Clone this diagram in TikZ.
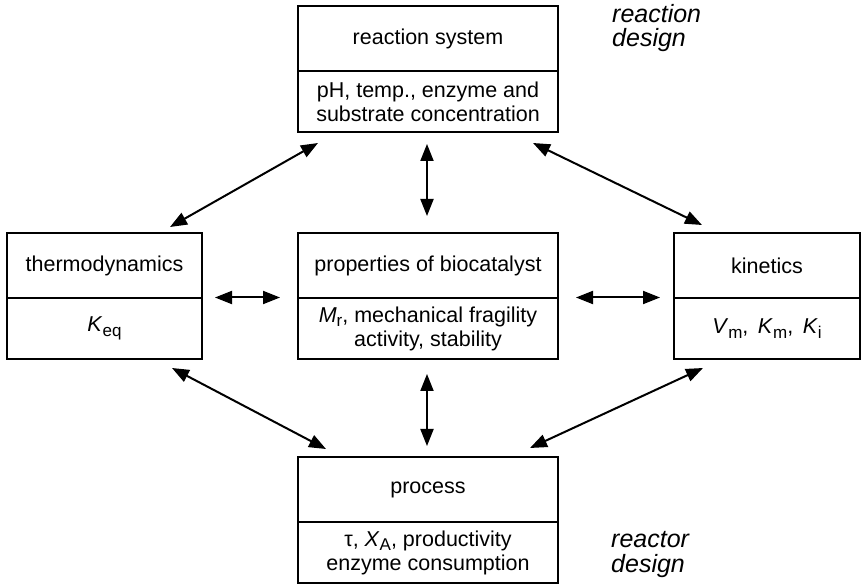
\documentclass[tikz,border=0pt]{standalone}
\usepackage{fontspec}
\setmainfont{Liberation Sans}
\usetikzlibrary{arrows.meta}
\newcommand{\sbx}[1]{\raisebox{-0.4ex}{\fontsize{17}{17}\selectfont #1}}
\begin{document}
\begin{tikzpicture}[x=1pt,y=-1pt,
  part/.style={draw, line width=1.4pt, inner sep=0pt, align=center,
    font=\fontsize{21.5}{24}\selectfont},
  head/.style={part, minimum height=65pt},
  body/.style={part, minimum height=61pt},
  wide/.style={minimum width=260pt},
  lbl/.style={inner sep=0pt, anchor=base west, align=left,
    font=\fontsize{25}{24.5}\selectfont\itshape},
  link/.style={line width=2pt,
    {Triangle[length=17pt,width=13pt]}-{Triangle[length=17pt,width=13pt]}}]
\useasboundingbox (0,0) rectangle (863,585);
% top box
\node[head, wide] (rsT) at (428,38.5) {reaction system};
\node[body, wide] (rsB) at (428,101.5) {pH, temp., enzyme and\\substrate concentration};
% middle row
\node[head, minimum width=195pt] (thT) at (104.5,265.5) {thermodynamics};
\node[body, minimum width=195pt] (thB) at (104.5,328.5) {\textit{K}\sbx{eq}};
\node[head, wide] (pbT) at (428,265.5) {properties of biocatalyst};
\node[body, wide] (pbB) at (428,328.5) {\textit{M}\sbx{r}, mechanical fragility\\activity, stability};
\node[head, minimum width=186pt] (knT) at (767,265.5) {kinetics};
\node[body, minimum width=186pt] (knB) at (767,328.5) {\textit{V}\sbx{m},\, \textit{K}\sbx{m},\, \textit{K}\sbx{i}};
% bottom box
\node[head, wide] (prT) at (428,489.5) {process};
\node[body, wide] (prB) at (428,552.5) {τ, \textit{X}\sbx{A}, productivity\\enzyme consumption};
% side labels
\node[lbl] (rd) at (612,47) {reaction\\design};
\node[lbl] (rc) at (611,572) {reactor\\design};
% arrow ends
\coordinate (a1) at (318,143); \coordinate (a2) at (170,227);
\coordinate (b1) at (533,143); \coordinate (b2) at (702,225);
\coordinate (c1) at (427,144); \coordinate (c2) at (427,216);
\coordinate (d1) at (215,297.5); \coordinate (d2) at (280,297.5);
\coordinate (e1) at (576,297.5); \coordinate (e2) at (660,297.5);
\coordinate (f1) at (427,374); \coordinate (f2) at (427,446);
\coordinate (g1) at (172,368); \coordinate (g2) at (326,449);
\coordinate (h1) at (703,368); \coordinate (h2) at (530,448);
\draw[link] (a1) -- (a2);
\draw[link] (b1) -- (b2);
\draw[link] (c1) -- (c2);
\draw[link] (d1) -- (d2);
\draw[link] (e1) -- (e2);
\draw[link] (f1) -- (f2);
\draw[link] (g1) -- (g2);
\draw[link] (h1) -- (h2);
\end{tikzpicture}
\end{document}
